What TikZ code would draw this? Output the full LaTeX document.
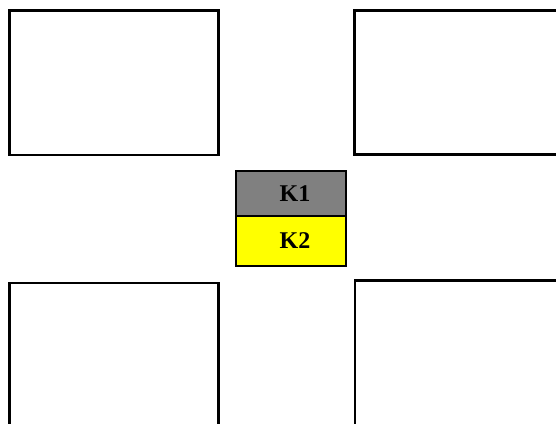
\documentclass[tikz,border=0pt]{standalone}
\usepackage{fontspec}
\setmainfont{Liberation Serif}
\definecolor{kgray}{RGB}{128,128,128}
\definecolor{kyellow}{RGB}{255,255,0}
\begin{document}
\begin{tikzpicture}[x=1pt,y=-1pt,
  room/.style={draw=black,line width=2.2pt,fill=white,outer sep=0pt,inner sep=0pt,anchor=north west},
  kbox/.style={draw=black,line width=2pt,outer sep=0pt,inner sep=0pt,anchor=north west,
     minimum width=110.3pt,font=\bfseries\fontsize{24}{24}\selectfont}]
\useasboundingbox (0,0) rectangle (556,423);
\clip (0,0) rectangle (556,423);
\fill[white] (0,0) rectangle (556,423);
\node[room,minimum width=209pt,minimum height=144.5pt] (tl) at (9.5,10.5) {};
\node[room,minimum width=260pt,minimum height=144pt] (tr) at (354.5,10.5) {};
\node[room,minimum width=209pt,minimum height=200pt] (bl) at (9.5,283) {};
\node[room,minimum width=260pt,minimum height=200pt] (br) at (355.3,280.5) {};
\node[kbox,fill=kgray,minimum height=45.5pt] (k1) at (235.5,170.5) {\hspace*{8.6pt}\raisebox{-1pt}{K1}};
\node[kbox,fill=kyellow,minimum height=50pt] (k2) at (235.5,216) {\hspace*{8.6pt}K2};
\end{tikzpicture}
\end{document}
